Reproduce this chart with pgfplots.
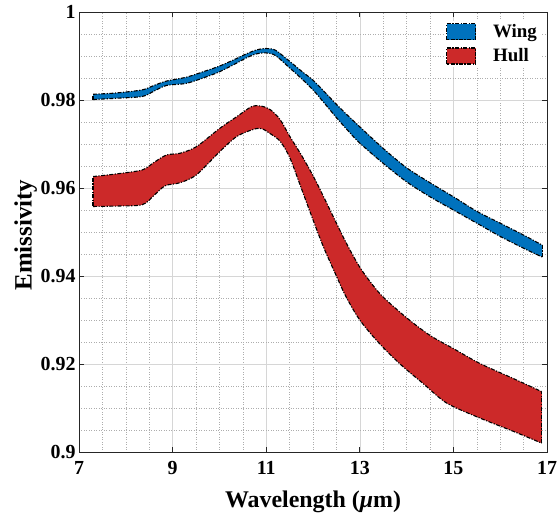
\documentclass[border=0pt]{standalone}
\usepackage{fontspec}
\setmainfont{Liberation Serif}
\usepackage{pgfplots}
\pgfplotsset{compat=1.18}
\usepgfplotslibrary{fillbetween}
\usepackage{pgfplotstable}

\definecolor{wingblue}{RGB}{0,114,189}
\definecolor{hullred}{RGB}{204,41,41}

% Wing emissivity: upper and lower bounds
\pgfplotstableread{
x y
7.3 0.9813
7.8 0.9816
8.35 0.9823
8.6 0.9833
8.87 0.9843
9.3 0.9852
9.73 0.9867
10.0 0.9877
10.3 0.9891
10.6 0.9906
10.8 0.9914
11.0 0.9917
11.2 0.9913
11.5 0.9888
11.75 0.9866
12.0 0.9845
12.25 0.9818
12.5 0.9790
12.75 0.9764
13.0 0.9739
13.5 0.9690
14.0 0.9646
14.5 0.9612
15.0 0.9580
15.5 0.9547
16.0 0.9520
16.5 0.9493
16.9 0.9470
}\wingup
\pgfplotstableread{
x y
7.3 0.9801
7.8 0.9804
8.35 0.9808
8.6 0.9820
8.87 0.9833
9.3 0.9838
9.73 0.9853
10.0 0.9864
10.3 0.9880
10.6 0.9897
10.8 0.9905
11.0 0.9907
11.2 0.9901
11.5 0.9873
11.75 0.9849
12.0 0.9823
12.25 0.9792
12.5 0.9760
12.75 0.9730
13.0 0.9702
13.5 0.9656
14.0 0.9614
14.5 0.9580
15.0 0.9550
15.5 0.9520
16.0 0.9490
16.5 0.9463
16.9 0.9443
}\winglo

% Hull emissivity: upper and lower bounds
\pgfplotstableread{
x y
7.3 0.9626
7.8 0.9632
8.35 0.9641
8.6 0.9658
8.87 0.9675
9.16 0.9679
9.51 0.9694
10.0 0.9735
10.37 0.9762
10.69 0.9785
10.9 0.9786
11.1 0.9777
11.3 0.9755
11.5 0.9718
11.75 0.9675
12.0 0.9628
12.25 0.9575
12.5 0.9520
12.75 0.9467
13.0 0.9420
13.25 0.9383
13.5 0.9352
14.0 0.9305
14.5 0.9265
15.0 0.9235
15.57 0.9201
16.28 0.9167
16.89 0.9137
}\hullup
\pgfplotstableread{
x y
7.3 0.9558
7.8 0.9559
8.35 0.9562
8.6 0.9583
8.84 0.9605
9.16 0.9612
9.51 0.9630
10.0 0.9682
10.37 0.9717
10.72 0.9733
10.9 0.9735
11.08 0.9724
11.3 0.9706
11.5 0.9670
11.7 0.9614
11.95 0.9542
12.22 0.9467
12.5 0.9400
12.71 0.9352
13.0 0.9300
13.39 0.9250
13.86 0.9200
14.36 0.9155
14.86 0.9111
15.57 0.9077
16.28 0.9047
16.89 0.9020
}\hulllo

\begin{document}
\begin{tikzpicture}
\begin{axis}[
  scale only axis,
  width=468bp, height=440bp,
  xmin=7, xmax=17, ymin=0.9, ymax=1,
  xtick={7,9,11,13,15,17},
  ytick={0.9,0.92,0.94,0.96,0.98,1},
  minor x tick num=3, minor y tick num=3,
  grid=both,
  major grid style={line width=0.5pt, draw=black!16},
  minor grid style={line width=0.5pt, draw=black!32, dotted},
  tick align=inside,
  major tick length=5bp, minor tick length=0pt,
  axis line style={line width=0.8pt, black!85},
  every tick/.style={black!85, line width=0.8pt},
  /pgf/number format/assume math mode=true,
  ticklabel style={font=\fontsize{20}{20}\selectfont\bfseries},
  yticklabel style={/pgf/number format/fixed, /pgf/number format/precision=2},
  xticklabel style={yshift=-6bp},
  xlabel={Wavelength (\textit{μ}m)},
  ylabel={Emissivity},
  xlabel style={at={(axis description cs:0.5,-0.1261)}, anchor=base,
    font=\fontsize{24}{24}\selectfont\bfseries},
  ylabel style={at={(axis description cs:-0.1011,0.493)}, anchor=base,
    font=\fontsize{25}{25}\selectfont\bfseries},
  legend cell align=left,
  legend style={at={(axis description cs:0.9874,0.981)}, anchor=north east,
    draw=none, fill=white, inner sep=2bp, row sep=5.5bp,
    nodes={inner sep=2bp},
    /tikz/every odd column/.append style={column sep=15bp},
    font=\fontsize{19}{19}\selectfont\bfseries},
  band/.style={line width=1.1pt, draw=black,
    dash pattern=on 4pt off 1.5pt on 1.2pt off 1.5pt},
  patch/.style={band, legend image code/.code={
      \draw[##1] (0bp,-8bp) rectangle (29bp,8bp);}},
]
\coordinate (sw) at (rel axis cs:0,0);
\coordinate (ne) at (rel axis cs:1,1);
% filled bands between the bounds
\addplot[draw=none, smooth, name path=wu, forget plot] table[x=x, y=y] {\wingup};
\addplot[draw=none, smooth, name path=wl, forget plot] table[x=x, y=y] {\winglo};
\addplot[fill=wingblue, draw=none, forget plot] fill between[of=wu and wl];
\addplot[draw=none, smooth, name path=hu, forget plot] table[x=x, y=y] {\hullup};
\addplot[draw=none, smooth, name path=hl, forget plot] table[x=x, y=y] {\hulllo};
\addplot[fill=hullred, draw=none, forget plot] fill between[of=hu and hl];
% dash-dot outlines
\addplot[band, smooth, forget plot] table[x=x, y=y] {\wingup};
\addplot[band, smooth, forget plot] table[x=x, y=y] {\winglo};
\addplot[band, forget plot] coordinates {(7.3,0.9801) (7.3,0.9813)};
\addplot[band, forget plot] coordinates {(16.9,0.9443) (16.9,0.9470)};
\addplot[band, smooth, forget plot] table[x=x, y=y] {\hullup};
\addplot[band, smooth, forget plot] table[x=x, y=y] {\hulllo};
\addplot[band, forget plot] coordinates {(7.3,0.9558) (7.3,0.9626)};
\addplot[band, forget plot] coordinates {(16.89,0.9020) (16.89,0.9137)};
% legend
\addlegendimage{patch, fill=wingblue}
\addlegendentry{Wing}
\addlegendimage{patch, fill=hullred}
\addlegendentry{Hull}
\end{axis}
\pgfresetboundingbox
\path ([shift={(-79bp,-62bp)}]sw) rectangle ([shift={(12bp,12bp)}]ne);
\end{tikzpicture}
\end{document}
